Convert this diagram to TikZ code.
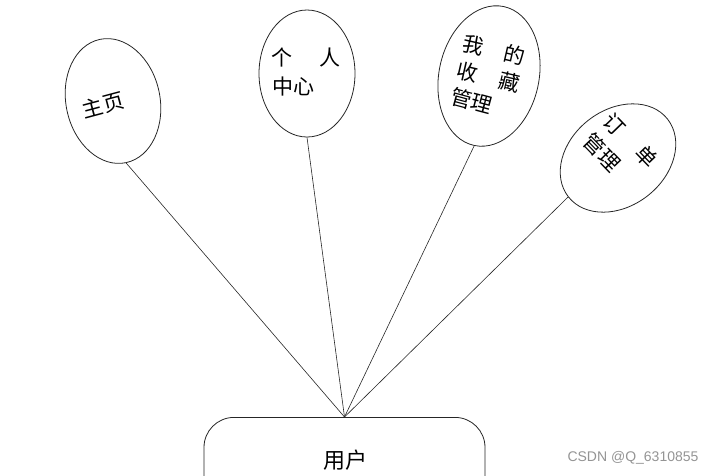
\documentclass[tikz,border=0pt]{standalone}
\usepackage{fontspec}
\newfontfamily\cjk{Noto Sans CJK SC}
\newfontfamily\wm{Liberation Sans}
\usetikzlibrary{shapes.geometric}
\begin{document}
\begin{tikzpicture}[x=1pt,y=-1pt,
  bubble/.style={draw=black!85, line width=0.8pt, ellipse, inner sep=0pt},
  conn/.style={draw=black!85, line width=0.6pt},
  lbl/.style={inner sep=0pt, font=\cjk\fontsize{21}{21}\selectfont},
  userbox/.style={draw=black!85, line width=0.8pt, rounded corners=30pt, minimum width=281pt, minimum height=110pt, anchor=north}]
\useasboundingbox (0,0) rectangle (717,475);
% bubbles
\node[bubble, minimum width=94pt, minimum height=126pt, rotate=12] (home) at (113,101) {};
\node[bubble, minimum width=96pt, minimum height=127pt] (center) at (307,73.5) {};
\node[bubble, minimum width=100pt, minimum height=142pt, rotate=-12] (fav) at (489,76) {};
\node[bubble, minimum width=96pt, minimum height=126pt, rotate=-52] (order) at (618,158) {};
% user box
\node[userbox] (user) at (344.5,417) {};
% labels
\node[lbl, rotate=15] (thome) at (103,105) {主页};
\node[lbl] (tc1) at (306,57) {\makebox[70pt][s]{个\hfill 人}};
\node[lbl, anchor=west] (tc2) at (272,87) {中心};
\node[lbl, rotate=-13] (tf1) at (494,50) {\makebox[64pt][s]{我\hfill 的}};
\node[lbl, rotate=-13] (tf2) at (488.5,77) {\makebox[64pt][s]{收\hfill 藏}};
\node[lbl, rotate=-15] (tf3) at (472,101) {管理};
\node[lbl, rotate=-46] (to1) at (630.5,140.5) {\makebox[66pt][s]{订\hfill 单}};
\node[lbl, rotate=-46] (to2) at (602,152.5) {管理};
\node[inner sep=0pt, font=\cjk\fontsize{22}{22}\selectfont] (tuser) at (345,460) {用户};
\node[inner sep=0pt, font=\wm\fontsize{14}{14}\selectfont, text=black!42] (mark) at (633,458) {CSDN @Q\_6310855};
% connectors
\draw[conn] (home.south) -- (user.north);
\draw[conn] (center.south) -- (user.north);
\draw[conn] (fav.south) -- (user.north);
\draw[conn] (order.south) -- (user.north);
\end{tikzpicture}
\end{document}
